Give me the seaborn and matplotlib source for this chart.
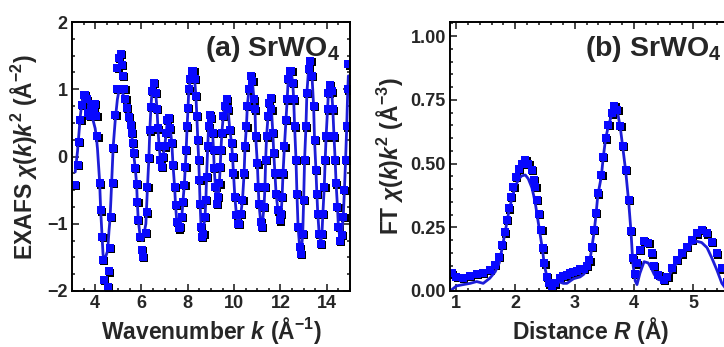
import matplotlib
matplotlib.use("Agg")
import matplotlib.pyplot as plt
import matplotlib.transforms as mtransforms
from matplotlib.ticker import MultipleLocator, FormatStrFormatter
import seaborn as sns

# (a) EXAFS chi(k)k^2, measured points and fit
k_data = [3.14, 3.24, 3.31, 3.36, 3.43, 3.50, 3.57, 3.64, 3.70, 3.76, 3.82, 3.88, 3.94,
          4.00, 4.05, 4.10, 4.19, 4.24, 4.31, 4.34, 4.39, 4.54, 4.60, 4.64, 4.68, 4.75,
          4.78, 4.87, 4.93, 4.96, 5.04, 5.10, 5.17, 5.21, 5.26, 5.31, 5.38, 5.47, 5.53,
          5.57, 5.62, 5.66, 5.73, 5.79, 5.82, 5.86, 5.93, 6.03, 6.07, 6.19, 6.22, 6.26,
          6.32, 6.36, 6.41, 6.45, 6.52, 6.62, 6.67, 6.71, 6.76, 6.82, 6.87, 6.93, 7.00,
          7.07, 7.11, 7.19, 7.24, 7.31, 7.36, 7.43, 7.47, 7.52, 7.60, 7.67, 7.74, 7.79,
          7.85, 7.89, 7.93, 7.97, 8.01, 8.04, 8.10, 8.17, 8.24, 8.30, 8.35, 8.39, 8.43,
          8.47, 8.50, 8.53, 8.57, 8.61, 8.67, 8.74, 8.78, 8.81, 8.86, 8.90, 8.94, 9.00,
          9.07, 9.11, 9.14, 9.19, 9.24, 9.31, 9.36, 9.40, 9.43, 9.47, 9.53, 9.60, 9.69,
          9.74, 9.81, 9.89, 9.93, 9.97, 10.03, 10.10, 10.17, 10.21, 10.29, 10.36, 10.43,
          10.47, 10.53, 10.57, 10.64, 10.71, 10.79, 10.86, 10.90, 10.93, 11.00, 11.04,
          11.07, 11.14, 11.21, 11.29, 11.33, 11.36, 11.40, 11.46, 11.50, 11.57, 11.61,
          11.67, 11.71, 11.76, 11.81, 11.89, 11.96, 12.03, 12.07, 12.11, 12.17, 12.24,
          12.29, 12.33, 12.40, 12.47, 12.53, 12.57, 12.61, 12.67, 12.71, 12.76, 12.83,
          12.89, 12.96, 13.00, 13.04, 13.10, 13.14, 13.21, 13.29, 13.36, 13.43, 13.47,
          13.53, 13.57, 13.61, 13.67, 13.74, 13.79, 13.83, 13.89, 13.93, 13.97, 14.03,
          14.07, 14.14, 14.21, 14.26, 14.31, 14.36, 14.40, 14.46, 14.50, 14.57, 14.64,
          14.71, 14.76, 14.81, 14.86, 14.90, 14.93]
chi_data = [-0.42, -0.12, 0.22, 0.55, 0.77, 0.92, 0.92, 0.85, 0.65, 0.60, 0.70, 0.78, 0.72,
            0.78, 0.60, 0.30, -0.40, -0.80, -1.20, -1.54, -1.84, -1.94, -1.71, -1.36, -0.90, -0.39,
            0.13, 0.62, 1.01, 1.32, 1.47, 1.53, 1.36, 1.20, 1.01, 0.86, 0.72, 0.59, 0.47,
            0.35, 0.20, 0.05, -0.17, -0.41, -0.67, -0.94, -1.19, -1.39, -1.49, -1.14, -0.83, -0.45,
            -0.02, 0.39, 0.74, 0.98, 1.09, 0.95, 0.71, 0.42, 0.16, -0.05, -0.15, 0.00, 0.15,
            0.35, 0.55, 0.57, 0.42, 0.20, -0.12, -0.45, -0.72, -0.97, -1.07, -1.05, -0.90, -0.67,
            -0.42, -0.15, 0.10, 0.45, 0.72, 1.00, 1.15, 1.27, 1.27, 1.15, 0.90, 0.60, 0.25,
            -0.05, -0.35, -0.70, -1.05, -1.20, -1.15, -0.90, -0.65, -0.30, 0.15, 0.45, 0.62, 0.57,
            0.35, 0.10, -0.17, -0.45, -0.70, -0.60, -0.40, -0.15, 0.10, 0.35, 0.60, 0.75, 0.85,
            0.70, 0.40, 0.20, 0.00, -0.25, -0.60, -0.87, -1.00, -1.00, -0.85, -0.65, -0.25,
            0.15, 0.45, 0.75, 1.00, 1.20, 1.12, 0.85, 0.70, 0.30, -0.10, -0.45,
            -0.70, -0.97, -1.05, -0.75, -0.45, -0.05, 0.30, 0.60, 0.80, 0.87, 0.70,
            0.35, 0.05, -0.25, -0.55, -0.80, -0.95, -0.85, -0.60, -0.25, 0.15, 0.55,
            0.85, 1.15, 1.27, 1.27, 1.10, 0.85, 0.45, -0.05, -0.55, -1.05, -1.35,
            -1.45, -1.15, -0.65, -0.05, 0.45, 0.95, 1.30, 1.42, 1.20, 0.75, 0.25,
            -0.20, -0.55, -0.85, -1.15, -1.30, -1.15, -0.85, -0.45, -0.05, 0.30, 0.70,
            0.95, 1.07, 0.97, 0.70, 0.30, -0.05, -0.40, -0.75, -1.05, -1.25, -1.17,
            -0.90, -0.50, -0.05, 0.45, 1.00, 1.37]
chi_fit = [-0.23, 0.08, 0.38, 0.60, 0.80, 0.90, 0.94, 0.88, 0.80, 0.74, 0.66, 0.58, 0.50,
           0.42, 0.30, 0.12, -0.35, -0.80, -1.25, -1.45, -1.56, -1.40, -1.10, -0.94, -0.65, -0.10,
           0.15, 0.55, 0.74, 0.85, 1.00, 1.02, 0.97, 0.92, 0.86, 0.80, 0.72, 0.59, 0.47,
           0.35, 0.20, 0.05, -0.17, -0.41, -0.67, -0.94, -1.15, -1.25, -1.22, -1.00, -0.75, -0.45,
           -0.02, 0.39, 0.74, 0.95, 1.02, 0.92, 0.71, 0.42, 0.16, -0.05, -0.13, 0.00, 0.15,
           0.35, 0.52, 0.55, 0.42, 0.20, -0.12, -0.45, -0.72, -0.95, -1.04, -1.02, -0.90, -0.67,
           -0.42, -0.15, 0.10, 0.45, 0.72, 0.98, 1.12, 1.22, 1.22, 1.12, 0.90, 0.60, 0.25,
           -0.05, -0.35, -0.70, -1.02, -1.15, -1.12, -0.90, -0.65, -0.30, 0.15, 0.45, 0.60, 0.57,
           0.35, 0.10, -0.17, -0.45, -0.68, -0.60, -0.40, -0.15, 0.10, 0.35, 0.60, 0.75, 0.85,
           0.70, 0.40, 0.20, 0.00, -0.25, -0.60, -0.87, -0.98, -0.98, -0.85, -0.65, -0.25,
           0.15, 0.45, 0.75, 1.00, 1.17, 1.10, 0.85, 0.70, 0.30, -0.10, -0.45,
           -0.70, -0.95, -1.02, -0.75, -0.45, -0.05, 0.30, 0.60, 0.78, 0.84, 0.70,
           0.35, 0.05, -0.25, -0.55, -0.80, -0.93, -0.85, -0.60, -0.25, 0.15, 0.55,
           0.85, 1.12, 1.24, 1.24, 1.10, 0.85, 0.45, -0.05, -0.55, -1.05, -1.35,
           -1.45, -1.15, -0.65, -0.05, 0.45, 0.95, 1.28, 1.38, 1.20, 0.75, 0.25,
           -0.20, -0.55, -0.85, -1.15, -1.28, -1.15, -0.85, -0.45, -0.05, 0.30, 0.70,
           0.95, 1.05, 0.97, 0.70, 0.30, -0.05, -0.40, -0.75, -1.05, -1.22, -1.15,
           -0.90, -0.50, -0.05, 0.45, 0.95, 1.20]

# (b) FT magnitude, measured points and fit
r_data = [0.93, 1.01, 1.12, 1.24, 1.35, 1.46, 1.57, 1.66, 1.73, 1.78, 1.82, 1.86, 1.89,
          1.93, 1.97, 2.01, 2.06, 2.11, 2.17, 2.22, 2.28, 2.31, 2.34, 2.37, 2.40, 2.44,
          2.47, 2.49, 2.53, 2.57, 2.62, 2.67, 2.75, 2.81, 2.87, 2.93, 2.98, 3.04, 3.09,
          3.15, 3.20, 3.25, 3.29, 3.33, 3.36, 3.39, 3.45, 3.48, 3.52, 3.57, 3.63, 3.67,
          3.72, 3.77, 3.81, 3.86, 3.91, 3.95, 3.98, 4.02, 4.05, 4.10, 4.17, 4.24, 4.30,
          4.34, 4.41, 4.50, 4.56, 4.64, 4.72, 4.81, 4.89, 4.97, 5.06, 5.14, 5.23, 5.31,
          5.40, 5.48, 5.56, 5.65]
ft_data = [0.069, 0.056, 0.050, 0.059, 0.067, 0.072, 0.082, 0.102, 0.135, 0.180, 0.230, 0.280, 0.324,
           0.369, 0.409, 0.447, 0.480, 0.500, 0.513, 0.500, 0.474, 0.435, 0.409, 0.356, 0.304, 0.239,
           0.167, 0.108, 0.056, 0.030, 0.018, 0.030, 0.050, 0.058, 0.063, 0.070, 0.076, 0.080, 0.085,
           0.087, 0.100, 0.120, 0.174, 0.240, 0.307, 0.383, 0.455, 0.527, 0.599, 0.651, 0.697, 0.725,
           0.710, 0.647, 0.569, 0.475, 0.357, 0.237, 0.128, 0.067, 0.108, 0.160, 0.197, 0.190, 0.148,
           0.098, 0.063, 0.043, 0.056, 0.089, 0.122, 0.148, 0.174, 0.200, 0.226, 0.239, 0.226, 0.193,
           0.148, 0.089, 0.035, 0.010]
ft_fit = [0.005, 0.020, 0.025, 0.030, 0.037, 0.030, 0.050, 0.075, 0.110, 0.170, 0.220, 0.270, 0.310,
          0.350, 0.385, 0.415, 0.440, 0.452, 0.455, 0.440, 0.405, 0.375, 0.340, 0.295, 0.250, 0.190,
          0.140, 0.100, 0.060, 0.030, 0.020, 0.028, 0.035, 0.030, 0.030, 0.040, 0.048, 0.052, 0.055,
          0.065, 0.080, 0.110, 0.170, 0.235, 0.300, 0.375, 0.450, 0.520, 0.595, 0.650, 0.695, 0.720,
          0.705, 0.640, 0.565, 0.470, 0.350, 0.230, 0.110, 0.040, 0.025, 0.070, 0.115, 0.110, 0.085,
          0.065, 0.045, 0.040, 0.050, 0.080, 0.110, 0.140, 0.165, 0.185, 0.195, 0.190, 0.170, 0.130,
          0.080, 0.030, 0.005, 0.000]

sns.set_style("ticks")
plt.rcParams["font.family"] = ["Liberation Sans", "DejaVu Sans"]
plt.rcParams["font.weight"] = "bold"
plt.rcParams["axes.labelweight"] = "bold"
plt.rcParams["mathtext.fontset"] = "custom"
plt.rcParams["mathtext.rm"] = "Liberation Sans:bold"
plt.rcParams["mathtext.it"] = "Liberation Sans:italic:bold"
plt.rcParams["mathtext.bf"] = "Liberation Sans:bold"
plt.rcParams["axes.linewidth"] = 1.4
plt.rcParams["axes.edgecolor"] = "black"

fig = plt.figure(figsize=(7.24, 3.47), dpi=100)
ax1 = fig.add_axes([0.0994, 0.1614, 0.384, 0.775])
ax2 = fig.add_axes([0.6215, 0.1614, 0.3895, 0.775])

def draw(ax, x, y, fit):
    shadow = mtransforms.offset_copy(ax.transData, fig=fig, x=0.9, y=-0.9, units="points")
    sns.lineplot(x=x, y=y, ax=ax, color="black", marker="s", markersize=5.8, linestyle="",
                 markeredgewidth=0, transform=shadow, sort=False, estimator=None)
    sns.lineplot(x=x, y=fit, ax=ax, color="#1d1dd8", linewidth=2.0, sort=False, estimator=None)
    sns.lineplot(x=x, y=y, ax=ax, color="#0808ff", marker="s", markersize=5.8, linestyle="",
                 markeredgewidth=0, sort=False, estimator=None)

draw(ax1, k_data, chi_data, chi_fit)
draw(ax2, r_data, ft_data, ft_fit)

ax1.set_xlim(3.0, 15.0)
ax1.set_ylim(-2.0, 2.0)
ax1.xaxis.set_major_locator(MultipleLocator(2))
ax1.xaxis.set_minor_locator(MultipleLocator(0.5))
ax1.yaxis.set_major_locator(MultipleLocator(1))
ax1.yaxis.set_minor_locator(MultipleLocator(0.25))
ax1.set_xlabel(r"Wavenumber $k$ (Å$^{-1}$)", fontsize=16.5, labelpad=2)
ax1.set_ylabel(r"EXAFS $\chi(k)k^2$ (Å$^{-2}$)", fontsize=16.5, labelpad=6)
ax1.text(0.965, 0.955, r"(a) SrWO$_4$", transform=ax1.transAxes, ha="right", va="top", fontsize=20.5)

ax2.set_xlim(0.9, 5.65)
ax2.set_ylim(0.0, 1.055)
ax2.xaxis.set_major_locator(MultipleLocator(1))
ax2.xaxis.set_minor_locator(MultipleLocator(0.2))
ax2.yaxis.set_major_locator(MultipleLocator(0.25))
ax2.yaxis.set_minor_locator(MultipleLocator(0.05))
ax2.yaxis.set_major_formatter(FormatStrFormatter("%.2f"))
ax2.set_xlabel(r"Distance $R$ (Å)", fontsize=16.5, labelpad=2)
ax2.set_ylabel(r"FT $\chi(k)k^2$ (Å$^{-3}$)", fontsize=16.5, labelpad=4)
ax2.text(0.965, 0.955, r"(b) SrWO$_4$", transform=ax2.transAxes, ha="right", va="top", fontsize=20.5)

for ax in (ax1, ax2):
    ax.tick_params(which="both", direction="in", top=True, right=True, width=1.2, labelsize=13, pad=3)
    ax.tick_params(which="major", length=5)
    ax.tick_params(which="minor", length=2.5)
    for lab in ax.get_xticklabels() + ax.get_yticklabels():
        lab.set_fontweight("bold")

fig.savefig("out.png", dpi=100)
